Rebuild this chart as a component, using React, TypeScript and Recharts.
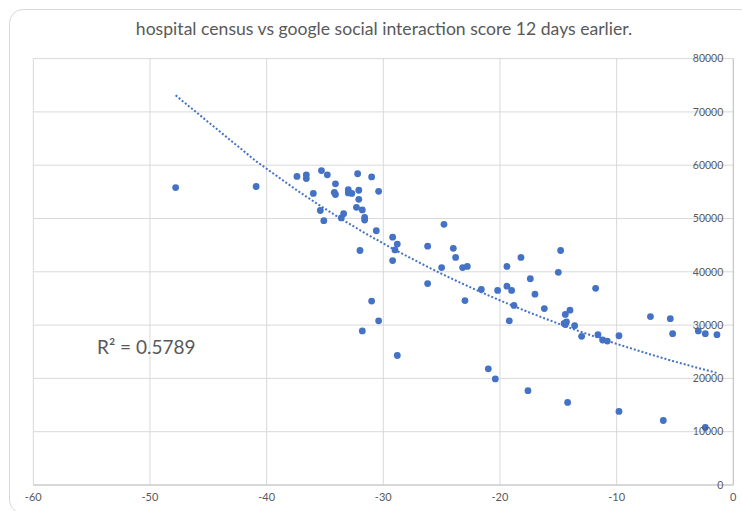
import { ScatterChart, Scatter, XAxis, YAxis, CartesianGrid } from 'recharts';

// google social interaction score (12 days earlier)
const scoreX = [
    -47.8, -40.9, -37.4, -36.6, -36.6, -35.3, -34.8, -34.1, -36.0, -34.2,
    -34.1, -33.0, -33.0, -32.7, -32.2, -32.1, -31.0, -30.4, -32.1, -35.4,
    -35.1, -33.4, -33.6, -32.3, -31.8, -31.6, -31.6, -30.6, -29.2, -28.8,
    -29.0, -29.2, -32.0, -31.0, -30.4, -31.8, -28.8, -24.8, -26.2, -24.0,
    -23.8, -25.0, -23.2, -22.8, -26.2, -23.0, -21.6, -20.2, -19.4, -18.2,
    -19.4, -19.0, -17.4, -17.0, -18.8, -19.2, -16.2, -14.8, -15.0, -11.8,
    -14.4, -14.0, -14.5, -14.4, -13.6, -13.0, -11.6, -11.2, -10.8, -9.8,
    -7.1, -5.4, -5.2, -3.0, -2.4, -1.4, -21.0, -20.4, -17.6, -14.2,
    -9.8, -6.0, -2.4, -14.3,
];

// hospital census
const censusY = [
    55800, 56000, 57900, 58200, 57500, 59000, 58200, 56500, 54700, 54900,
    54500, 55400, 54800, 54700, 58400, 55300, 57800, 55100, 53600, 51500,
    49600, 50900, 50100, 52100, 51600, 50200, 49700, 47700, 46500, 45200,
    44100, 42100, 44000, 34500, 30800, 28900, 24300, 48900, 44800, 44400,
    42700, 40800, 40800, 41000, 37800, 34600, 36700, 36500, 41000, 42700,
    37300, 36500, 38700, 35800, 33700, 30800, 33100, 44000, 39900, 36900,
    32000, 32800, 30300, 30100, 29900, 27900, 28200, 27200, 27000, 28000,
    31600, 31200, 28400, 28900, 28400, 28200, 21800, 19900, 17700, 15500,
    13800, 12100, 10800, 30600,
];

const xTicks = [-60, -50, -40, -30, -20, -10, 0];
const yTicks = [0, 10000, 20000, 30000, 40000, 50000, 60000, 70000, 80000];
const title = 'hospital census vs google social interaction score 12 days earlier.';
const rSquared = 'R² = 0.5789';

const points = scoreX.map((x, i) => ({ x, y: censusY[i] }));

// exponential trendline, least squares on ln(y) like excel does
const n = points.length;
const mx = scoreX.reduce((s, v) => s + v, 0) / n;
const lnY = censusY.map((v) => Math.log(v));
const my = lnY.reduce((s, v) => s + v, 0) / n;
let sxy = 0;
let sxx = 0;
scoreX.forEach((x, i) => {
    sxy += (x - mx) * (lnY[i] - my);
    sxx += (x - mx) * (x - mx);
});
const b = sxy / sxx;
const a = my - b * mx;
const trend = [...new Set(scoreX)]
    .sort((p, q) => p - q)
    .map((x) => ({ x, y: Math.exp(a + b * x) }));

const grey = '#595959';
const blue = '#4472C4';

const Dot = (props: any) => <circle cx={props.cx} cy={props.cy} r={3.4} fill={blue} />;
const NoDot = () => <g />;

export default function App() {
    return (
        <div style={{ position: 'absolute', left: 0, top: 0, width: 742, height: 511, overflow: 'hidden', background: '#fff', fontFamily: 'Lato, sans-serif' }}>
            {/* rounded chart frame */}
            <div style={{ position: 'absolute', left: 9, top: 9, width: 745, height: 505, border: '1px solid #d9d9d9', borderRadius: 14, boxSizing: 'border-box' }} />

            <div style={{ position: 'absolute', left: 0, top: 18, width: 768, textAlign: 'center', fontSize: 17.6, color: grey }}>
                {title}
            </div>

            <ScatterChart
                width={742}
                height={511}
                margin={{ top: 58.6, right: 8.7, left: 33.3, bottom: 6 }}
                style={{ position: 'absolute', left: 0, top: 0, fontFamily: 'Lato, sans-serif' }}
            >
                <CartesianGrid stroke="#d9d9d9" />
                <XAxis
                    type="number"
                    dataKey="x"
                    domain={[-60, 0]}
                    ticks={xTicks}
                    height={20}
                    tickLine={false}
                    axisLine={{ stroke: '#c4c4c4' }}
                    tick={{ fill: grey, fontSize: 11 }}
                    allowDataOverflow
                />
                <YAxis
                    type="number"
                    dataKey="y"
                    orientation="right"
                    mirror
                    domain={[0, 80000]}
                    ticks={yTicks}
                    tickLine={false}
                    tickMargin={4}
                    axisLine={{ stroke: '#c4c4c4' }}
                    tick={{ fill: grey, fontSize: 10.5 }}
                    allowDataOverflow
                />
                <Scatter data={points} shape={Dot} isAnimationActive={false} />
                <Scatter
                    data={trend}
                    shape={NoDot}
                    line={{ stroke: blue, strokeWidth: 2, strokeDasharray: '2 2' }}
                    isAnimationActive={false}
                />
            </ScatterChart>

            <div style={{ position: 'absolute', left: 97, top: 335, fontSize: 19, color: grey }}>
                {rSquared}
            </div>
        </div>
    );
}
